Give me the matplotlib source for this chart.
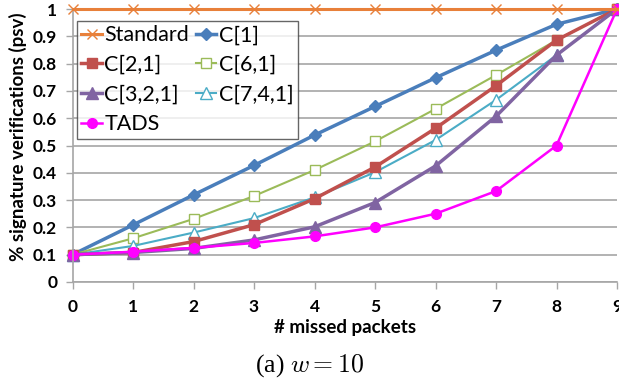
import matplotlib
matplotlib.use("Agg")
import matplotlib.pyplot as plt

x = list(range(10))
standard = [1.0] * 10
c1 = [0.1, 0.209, 0.319, 0.427, 0.538, 0.643, 0.748, 0.849, 0.944, 1.0]
c21 = [0.1, 0.108, 0.148, 0.21, 0.305, 0.421, 0.563, 0.719, 0.886, 1.0]
c61 = [0.1, 0.16, 0.231, 0.315, 0.41, 0.515, 0.634, 0.758, 0.886, 1.0]
c321 = [0.1, 0.108, 0.123, 0.154, 0.202, 0.291, 0.425, 0.607, 0.831, 1.0]
c741 = [0.1, 0.132, 0.181, 0.234, 0.31, 0.402, 0.52, 0.667, 0.831, 1.0]
tads = [0.1, 0.111, 0.125, 0.143, 0.167, 0.2, 0.25, 0.333, 0.5, 1.0]
yticks = [0, 0.1, 0.2, 0.3, 0.4, 0.5, 0.6, 0.7, 0.8, 0.9, 1]

plt.rcParams['font.family'] = ['Lato', 'DejaVu Sans']
plt.rcParams['mathtext.fontset'] = 'cm'

W, H = 619, 384
fig = plt.figure(figsize=(6.19, 3.84), dpi=100)
ax = fig.add_axes([72.5 / W, 1 - 282 / H, (617 - 72.5) / W, (282 - 9) / H])

grid_c = '#a6a6a6'
ax.yaxis.grid(True, color=grid_c, linewidth=1.2)
ax.set_axisbelow(True)

kw = dict(clip_on=False)
h_std, = ax.plot(x, standard, color='#E8803A', lw=2.2, marker='x', ms=7, mew=1.0, label='Standard', **kw)
h_c1, = ax.plot(x, c1, color='#4A7EBB', lw=2.5, marker='D', ms=6, label='C[1]', **kw)
h_c61, = ax.plot(x, c61, color='#9BBB59', lw=1.5, marker='s', ms=7, mfc='white', mew=1.0, label='C[6,1]', **kw)
h_c741, = ax.plot(x, c741, color='#4BACC6', lw=1.5, marker='^', ms=8, mfc='white', mew=1.0, label='C[7,4,1]', **kw)
h_c21, = ax.plot(x, c21, color='#C0504D', lw=2.5, marker='s', ms=7, label='C[2,1]', **kw)
h_c321, = ax.plot(x, c321, color='#8064A2', lw=2.5, marker='^', ms=8, label='C[3,2,1]', **kw)
h_tads, = ax.plot(x, tads, color='#FF00FF', lw=1.8, marker='o', ms=7, label='TADS', **kw)
h_std.set_zorder(5)

ax.set_xlim(0, 9)
ax.set_ylim(0, 1)
ax.set_xticks(x)
ax.set_yticks(yticks)
ax.set_yticklabels([str(v) for v in yticks])
for s in ['top', 'right']:
    ax.spines[s].set_visible(False)
for s in ['left', 'bottom']:
    ax.spines[s].set_color(grid_c)
    ax.spines[s].set_linewidth(1.2)
ax.tick_params(axis='both', color=grid_c, length=5, width=1.0, labelsize=12.5)
for lab in ax.get_xticklabels() + ax.get_yticklabels():
    lab.set_fontweight('bold')
ax.tick_params(axis='x', pad=7)
ax.tick_params(axis='y', pad=6)

ax.set_xlabel('# missed packets', fontsize=13.5, fontweight='bold')
ax.set_ylabel('% signature verifications (psv)', fontsize=13.5, fontweight='bold')
ax.xaxis.set_label_coords(0.5, -(327 - 282) / (282 - 9))
ax.yaxis.set_label_coords(-(72.5 - 18) / (617 - 72.5), (282 - 136.5) / (282 - 9))
ax.xaxis.label.set_va('center')
ax.yaxis.label.set_va('center')

handles = [h_std, h_c21, h_c321, h_tads, h_c1, h_c61, h_c741]
leg = ax.legend(handles=handles, ncol=2, loc='upper left',
                bbox_to_anchor=((77 - 72.5) / (617 - 72.5), (282 - 21) / (282 - 9)),
                fontsize=15.5, frameon=True, fancybox=False, handlelength=0.95,
                handletextpad=0.12, columnspacing=0.3, labelspacing=0.45, borderpad=0.2,
                borderaxespad=0)
leg.get_frame().set_edgecolor('#404040')
leg.get_frame().set_linewidth(1.0)
leg.set_zorder(10)

fig.text(0.5, 1 - 366 / H, r'(a) $w = 10$', ha='center', va='center', fontsize=18.5,
         family='Liberation Serif')

fig.savefig('out.png', dpi=100)
